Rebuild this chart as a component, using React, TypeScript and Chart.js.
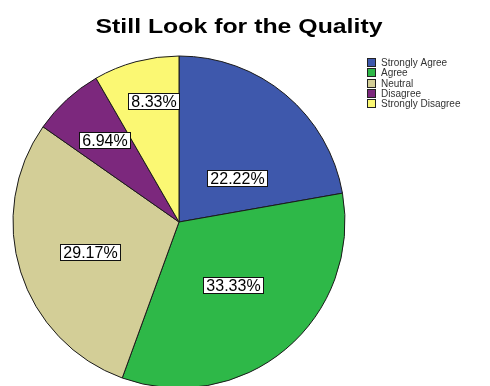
import { useEffect, useRef } from "react";
import { Chart, registerables } from "chart.js";

Chart.register(...registerables);

// ---- data ----
const chartTitle = "Still Look for the Quality";
const categories = ["Strongly Agree", "Agree", "Neutral", "Disagree", "Strongly Disagree"];
const counts = [16, 24, 21, 5, 6]; // n = 72 -> 22.22%, 33.33%, 29.17%, 6.94%, 8.33%
const sliceColors = ["#3E58AC", "#2EB848", "#D3CE97", "#7C287D", "#FBF873"];

// where inside each slice its label sits: fraction along the slice's sweep, fraction of radius
const labelPlacement = [
  { t: 0.66, r: 0.44 },
  { t: 0.495, r: 0.5 },
  { t: 0.49, r: 0.565 },
  { t: 0.51, r: 0.67 },
  { t: 0.61, r: 0.745 },
];

const FONT = "'Liberation Sans', Arial, Helvetica, sans-serif";

const decorPlugin = {
  id: "spssDecor",
  afterDatasetsDraw(chart: any) {
    const ctx = chart.ctx as CanvasRenderingContext2D;
    const meta = chart.getDatasetMeta(0);
    const data = chart.data.datasets[0].data as number[];
    const total = data.reduce((a, b) => a + b, 0);
    ctx.save();
    ctx.font = `16px ${FONT}`;
    ctx.textAlign = "center";
    ctx.textBaseline = "middle";
    meta.data.forEach((arc: any, i: number) => {
      const p = arc.getProps(["x", "y", "startAngle", "endAngle", "outerRadius"], true);
      const pl = labelPlacement[i];
      const a = p.startAngle + pl.t * (p.endAngle - p.startAngle);
      const x = p.x + Math.cos(a) * p.outerRadius * pl.r;
      const y = p.y + Math.sin(a) * p.outerRadius * pl.r;
      const txt = ((data[i] / total) * 100).toFixed(2) + "%";
      const w = Math.round(ctx.measureText(txt).width + 6);
      const h = 16;
      const bx = Math.round(x - w / 2) + 0.5;
      const by = Math.round(y - h / 2) + 0.5;
      ctx.fillStyle = "#ffffff";
      ctx.fillRect(bx, by, w, h);
      ctx.strokeStyle = "#111111";
      ctx.lineWidth = 1;
      ctx.strokeRect(bx, by, w, h);
      ctx.fillStyle = "#000000";
      ctx.fillText(txt, bx + w / 2, by + h / 2 + 1);
    });
    ctx.restore();
  },
  afterDraw(chart: any) {
    const ctx = chart.ctx as CanvasRenderingContext2D;
    // title
    ctx.save();
    ctx.font = `bold 21px ${FONT}`;
    ctx.fillStyle = "#000000";
    ctx.textBaseline = "alphabetic";
    ctx.textAlign = "center";
    const tw = ctx.measureText(chartTitle).width;
    const sx = 287 / tw;
    ctx.translate(239, 33);
    ctx.scale(sx, 1);
    ctx.fillText(chartTitle, 0, 0);
    ctx.restore();

    // legend
    ctx.save();
    ctx.font = `10px ${FONT}`;
    ctx.textAlign = "left";
    ctx.textBaseline = "middle";
    const labels = chart.data.labels as string[];
    const colors = chart.data.datasets[0].backgroundColor as string[];
    labels.forEach((lab, i) => {
      const top = 58 + Math.round(i * 10.3);
      ctx.fillStyle = colors[i];
      ctx.fillRect(367.5, top + 0.5, 8, 8);
      ctx.strokeStyle = "#222222";
      ctx.lineWidth = 1;
      ctx.strokeRect(367.5, top + 0.5, 8, 8);
      ctx.fillStyle = "#333333";
      ctx.fillText(lab, 381, top + 5);
    });
    ctx.restore();
  },
};

export default function App() {
  const canvasRef = useRef<HTMLCanvasElement | null>(null);

  useEffect(() => {
    const canvas = canvasRef.current;
    if (!canvas) return;
    const chart = new Chart(canvas, {
      type: "pie",
      data: {
        labels: categories,
        datasets: [
          {
            data: counts,
            backgroundColor: sliceColors,
            borderColor: "#1a1a1a",
            borderWidth: 1,
          },
        ],
      },
      options: {
        responsive: false,
        maintainAspectRatio: false,
        animation: false,
        events: [],
        radius: 166,
        layout: { padding: { left: 12, right: 144, top: 58, bottom: 0 } },
        plugins: {
          legend: { display: false },
          title: { display: false },
          tooltip: { enabled: false },
        },
      } as any,
      plugins: [decorPlugin],
    });
    return () => chart.destroy();
  }, []);

  return (
    <div style={{ position: "fixed", left: 0, top: 0, width: 490, height: 386, background: "#ffffff" }}>
      <canvas ref={canvasRef} width={490} height={386} style={{ display: "block" }} />
    </div>
  );
}
